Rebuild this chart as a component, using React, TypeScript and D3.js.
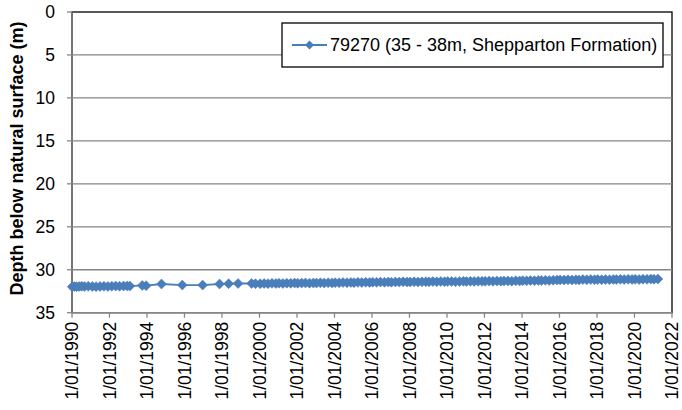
import React from "react";
import * as d3 from "d3";

const seriesName = "79270 (35 - 38m, Shepparton Formation)";
const yAxisTitle = "Depth below natural surface (m)";

const dates = [
  "1990-01-05", "1990-02-15", "1990-04-01", "1990-05-20", "1990-07-10", "1990-09-01", "1990-11-15",
  "1991-02-01", "1991-04-15", "1991-07-01", "1991-09-15", "1991-12-01",
  "1992-02-15", "1992-05-01", "1992-07-15", "1992-10-01", "1992-12-10",
  "1993-02-01", "1993-10-01", "1993-12-15", "1994-10-10", "1995-11-20", "1996-12-20",
  "1997-11-15", "1998-05-10", "1998-11-10", "1999-08-01", "1999-10-15",
  "2000-01-15", "2000-04-01", "2000-06-15", "2000-09-01", "2000-11-15",
  "2001-01-15", "2001-04-01", "2001-06-15", "2001-09-01", "2001-11-15",
  "2002-01-15", "2002-04-01", "2002-06-15", "2002-09-01", "2002-11-15",
  "2003-01-15", "2003-04-01", "2003-06-15", "2003-09-01", "2003-11-15",
  "2004-01-15", "2004-04-01", "2004-06-15", "2004-09-01", "2004-11-15",
  "2005-01-15", "2005-04-01", "2005-06-15", "2005-09-01", "2005-11-15",
  "2006-01-15", "2006-04-01", "2006-06-15", "2006-09-01", "2006-11-15",
  "2007-01-15", "2007-04-01", "2007-06-15", "2007-09-01", "2007-11-15",
  "2008-01-15", "2008-04-01", "2008-06-15", "2008-09-01", "2008-11-15",
  "2009-01-15", "2009-04-01", "2009-06-15", "2009-09-01", "2009-11-15",
  "2010-01-15", "2010-04-01", "2010-06-15", "2010-09-01", "2010-11-15",
  "2011-01-15", "2011-04-01", "2011-06-15", "2011-09-01", "2011-11-15",
  "2012-01-15", "2012-04-01", "2012-06-15", "2012-09-01", "2012-11-15",
  "2013-01-15", "2013-04-01", "2013-06-15", "2013-09-01", "2013-11-15",
  "2014-01-15", "2014-04-01", "2014-06-15", "2014-09-01", "2014-11-15",
  "2015-01-15", "2015-04-01", "2015-06-15", "2015-09-01", "2015-11-15",
  "2016-01-15", "2016-04-01", "2016-06-15", "2016-09-01", "2016-11-15",
  "2017-01-15", "2017-04-01", "2017-06-15", "2017-09-01", "2017-11-15",
  "2018-01-15", "2018-04-01", "2018-06-15", "2018-09-01", "2018-11-15",
  "2019-01-15", "2019-04-01", "2019-06-15", "2019-09-01", "2019-11-15",
  "2020-01-15", "2020-04-01", "2020-06-15", "2020-09-01", "2020-11-15",
  "2021-01-15", "2021-04-01",
];

const depths = [
  31.98, 31.95, 31.97, 31.95, 31.93, 31.96, 31.92,
  31.95, 31.97, 31.94, 31.92, 31.95,
  31.91, 31.9, 31.93, 31.89, 31.88,
  31.9, 31.82, 31.85, 31.66, 31.79, 31.79,
  31.66, 31.62, 31.6, 31.6, 31.62,
  31.63, 31.6, 31.62, 31.58, 31.6,
  31.57, 31.6, 31.56, 31.58, 31.55,
  31.57, 31.55, 31.53, 31.56, 31.54,
  31.55, 31.52, 31.54, 31.51, 31.53,
  31.5, 31.52, 31.49, 31.51, 31.48,
  31.5, 31.47, 31.49, 31.46, 31.48,
  31.45, 31.47, 31.44, 31.46, 31.43,
  31.45, 31.42, 31.44, 31.41, 31.43,
  31.42, 31.4, 31.43, 31.41, 31.39,
  31.41, 31.38, 31.4, 31.37, 31.39,
  31.38, 31.36, 31.39, 31.37, 31.35,
  31.37, 31.34, 31.36, 31.33, 31.35,
  31.34, 31.32, 31.35, 31.31, 31.33,
  31.32, 31.3, 31.33, 31.29, 31.3,
  31.27, 31.29, 31.25, 31.27, 31.24,
  31.26, 31.23, 31.25, 31.22, 31.2,
  31.18, 31.2, 31.17, 31.19, 31.16,
  31.18, 31.15, 31.17, 31.14, 31.16,
  31.15, 31.17, 31.14, 31.16, 31.13,
  31.15, 31.12, 31.14, 31.11, 31.13,
  31.12, 31.14, 31.1, 31.12, 31.09,
  31.11, 31.08,
];

const yTicks = [0, 5, 10, 15, 20, 25, 30, 35];
const xStart = "1990-01-01";
const xEnd = "2022-01-01";

const W = 682;
const H = 410;
const left = 72;
const right = 672;
const top = 12;
const bottom = 312.7;
const blue = "#4A7EBB";
const gray = "#868686";
const font = "Liberation Sans, Arial, sans-serif";

const parse = d3.timeParse("%Y-%m-%d");
const fmt = d3.timeFormat("%-d/%m/%Y");

function diamond(r: number) {
  return `M0,${-r}L${r},0L0,${r}L${-r},0Z`;
}

export default function App() {
  const x = d3.scaleTime().domain([parse(xStart)!, parse(xEnd)!]).range([left, right]);
  const y = d3.scaleLinear().domain([0, 35]).range([top, bottom]);
  const pts = dates.map((d, i) => ({ t: parse(d)!, v: depths[i] }));
  const line = d3
    .line<{ t: Date; v: number }>()
    .x((d) => x(d.t))
    .y((d) => y(d.v));
  const xTicks = d3.timeYear.every(2)!.range(parse(xStart)!, d3.timeDay.offset(parse(xEnd)!, 1));

  return (
    <svg width={W} height={H} style={{ position: "absolute", left: 0, top: 0, background: "#fff" }} fontFamily={font}>
      <rect x={0} y={0} width={W} height={H} fill="#fff" />
      <rect x={left} y={top} width={right - left} height={bottom - top} fill="none" stroke="#000" strokeWidth={1.3} />
      {yTicks.slice(1, -1).map((t) => (
        <line key={t} x1={left} x2={right} y1={y(t)} y2={y(t)} stroke={gray} strokeWidth={1.3} />
      ))}
      <line x1={left} x2={left} y1={top} y2={bottom} stroke={gray} strokeWidth={1.3} />
      {yTicks.map((t) => (
        <g key={t}>
          <line x1={left - 5} x2={left} y1={y(t)} y2={y(t)} stroke={gray} strokeWidth={1.3} />
          <text x={55} y={y(t)} dy="0.35em" textAnchor="end" fontSize={17.5} fill="#000">
            {t}
          </text>
        </g>
      ))}
      <line x1={left} x2={right} y1={bottom} y2={bottom} stroke={gray} strokeWidth={1.3} />
      {xTicks.map((t) => (
        <g key={t.getTime()}>
          <line x1={x(t)} x2={x(t)} y1={bottom} y2={bottom + 5} stroke={gray} strokeWidth={1.3} />
          <text
            transform={`translate(${x(t)},${bottom + 9}) rotate(-90)`}
            textAnchor="end"
            dy="0.35em"
            fontSize={17.5}
            fill="#000"
          >
            {fmt(t)}
          </text>
        </g>
      ))}
      <text
        transform={`translate(23,${(20 + 297) / 2}) rotate(-90)`}
        textAnchor="middle"
        fontSize={18}
        fontWeight="bold"
        fill="#000"
      >
        {yAxisTitle}
      </text>
      <path d={line(pts)!} fill="none" stroke={blue} strokeWidth={1.8} />
      {pts.map((p, i) => (
        <path key={i} d={diamond(5)} transform={`translate(${x(p.t)},${y(p.v)})`} fill={blue} stroke={blue} strokeWidth={0.5} />
      ))}
      <rect x={282} y={23} width={381} height={44} fill="#fff" stroke="#000" strokeWidth={1.3} />
      <line x1={292} x2={327} y1={45} y2={45} stroke={blue} strokeWidth={1.8} />
      <path d={diamond(4.5)} transform="translate(309.5,45)" fill={blue} />
      <text x={330} y={45} dy="0.35em" fontSize={18} fill="#000">
        {seriesName}
      </text>
    </svg>
  );
}
